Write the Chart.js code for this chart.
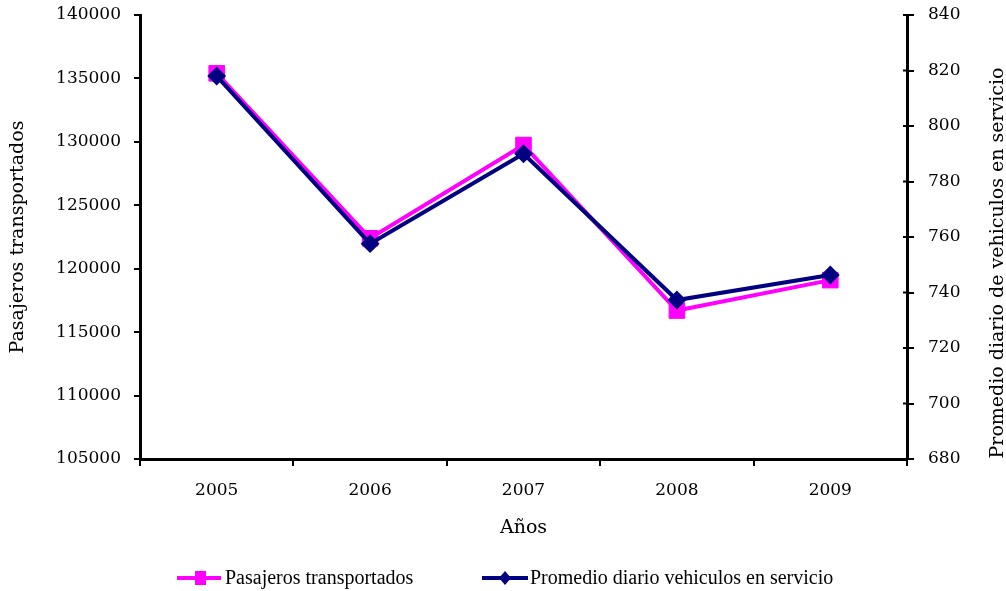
<!DOCTYPE html>
<html>
<head>
<meta charset="utf-8">
<script src="https://cdn.jsdelivr.net/npm/chart.js@4.4.1/dist/chart.umd.min.js"></script>
<style>
  html, body { margin: 0; padding: 0; background: #fff; }
  canvas { display: block; }
</style>
</head>
<body>
<canvas id="lineChart" width="1006" height="591"></canvas>
<script>
  // data
  const years = ['2005', '2006', '2007', '2008', '2009'];
  const pasajeros = [135400, 122400, 129750, 116700, 119100];
  const promedio = [818, 757.6, 790, 737.3, 746.3];

  const pasajerosLabel = 'Pasajeros transportados';
  const promedioLabel = 'Promedio diario vehiculos en servicio';
  const leftTitle = 'Pasajeros transportados';
  const rightTitle = 'Promedio diario de vehiculos en servicio';
  const xTitle = 'Años';

  const serif = 'DejaVu Serif';
  const pink = '#FF00FF';
  const navy = '#000080';

  // right axis title (reads upwards), legend and inner ticks of right axis
  const extras = {
    id: 'extras',
    afterDraw(chart) {
      const ctx = chart.ctx;
      const area = chart.chartArea;
      const y1 = chart.scales.y1;

      // inner part of right axis ticks
      ctx.save();
      ctx.strokeStyle = '#000';
      ctx.lineWidth = 2;
      y1.ticks.forEach((t, i) => {
        const py = y1.getPixelForTick(i);
        ctx.beginPath();
        ctx.moveTo(area.right - 4, py);
        ctx.lineTo(area.right, py);
        ctx.stroke();
      });
      ctx.restore();

      // right title
      ctx.save();
      ctx.translate(998, 263);
      ctx.rotate(-Math.PI / 2);
      ctx.font = '19px "' + serif + '"';
      ctx.fillStyle = '#000';
      ctx.textAlign = 'center';
      ctx.textBaseline = 'middle';
      ctx.fillText(rightTitle, 0, 0);
      ctx.restore();

      // legend
      const ly = 578;
      ctx.save();
      ctx.lineWidth = 4;
      ctx.strokeStyle = pink;
      ctx.beginPath(); ctx.moveTo(177, ly); ctx.lineTo(221, ly); ctx.stroke();
      ctx.fillStyle = pink;
      ctx.fillRect(195, ly - 7, 11, 14);
      ctx.strokeStyle = navy;
      ctx.beginPath(); ctx.moveTo(482, ly); ctx.lineTo(528, ly); ctx.stroke();
      ctx.fillStyle = navy;
      ctx.beginPath();
      ctx.moveTo(505, ly - 7); ctx.lineTo(511, ly); ctx.lineTo(505, ly + 7); ctx.lineTo(499, ly);
      ctx.closePath(); ctx.fill();
      ctx.font = '20px "Liberation Serif"';
      ctx.fillStyle = '#000';
      ctx.textBaseline = 'middle';
      ctx.fillText(pasajerosLabel, 225, ly + 1);
      ctx.fillText(promedioLabel, 530, ly + 1);
      ctx.restore();
    }
  };

  const plain = (v) => String(v);
  // keep the label overflow from pushing the plot area down
  const fitY = (w) => (scale) => {
    scale.width = w;
    scale.paddingTop = 0;
    scale.paddingBottom = 0;
  };

  const config_line = {
    type: 'line',
    data: {
      labels: years,
      datasets: [{
        label: pasajerosLabel,
        data: pasajeros,
        yAxisID: 'y',
        borderColor: pink,
        backgroundColor: pink,
        borderWidth: 4,
        pointStyle: 'rect',
        pointRadius: 11,
        pointBorderWidth: 1,
        tension: 0,
        order: 1
      }, {
        label: promedioLabel,
        data: promedio,
        yAxisID: 'y1',
        borderColor: navy,
        backgroundColor: navy,
        borderWidth: 4,
        pointStyle: 'rectRot',
        pointRadius: 8,
        pointBorderWidth: 2,
        tension: 0,
        order: 0
      }]
    },
    options: {
      responsive: false,
      animation: false,
      layout: { padding: { top: 15, left: 0, right: 0, bottom: 52 } },
      plugins: {
        legend: { display: false },
        tooltip: { enabled: false }
      },
      scales: {
        x: {
          offset: true,
          grid: { offset: true, drawOnChartArea: false, color: '#000', lineWidth: 2, tickLength: 7 },
          border: { color: '#000', width: 3 },
          ticks: { color: '#000', font: { family: serif, size: 17 }, padding: 14 },
          title: { display: true, text: xTitle, color: '#000', font: { family: serif, size: 19 }, padding: { top: 4, bottom: 0 } },
          afterFit(scale) { scale.height = 80; }
        },
        y: {
          position: 'left',
          min: 105000,
          max: 140000,
          ticks: { stepSize: 5000, color: '#000', font: { family: serif, size: 17 }, padding: 13, callback: plain },
          grid: { drawOnChartArea: false, color: '#000', lineWidth: 2, tickLength: 6 },
          border: { color: '#000', width: 3 },
          title: { display: true, text: leftTitle, color: '#000', font: { family: serif, size: 19 }, padding: { top: 7, bottom: 0 } },
          afterFit: fitY(140)
        },
        y1: {
          position: 'right',
          min: 680,
          max: 840,
          ticks: { stepSize: 20, color: '#000', font: { family: serif, size: 17 }, padding: 14, callback: plain },
          grid: { drawOnChartArea: false, color: '#000', lineWidth: 2, tickLength: 7 },
          border: { color: '#000', width: 3 },
          afterFit: fitY(99)
        }
      }
    },
    plugins: [extras]
  };

  const chart_line = new Chart(
    document.getElementById('lineChart').getContext('2d'),
    config_line
  );
</script>
</body>
</html>
